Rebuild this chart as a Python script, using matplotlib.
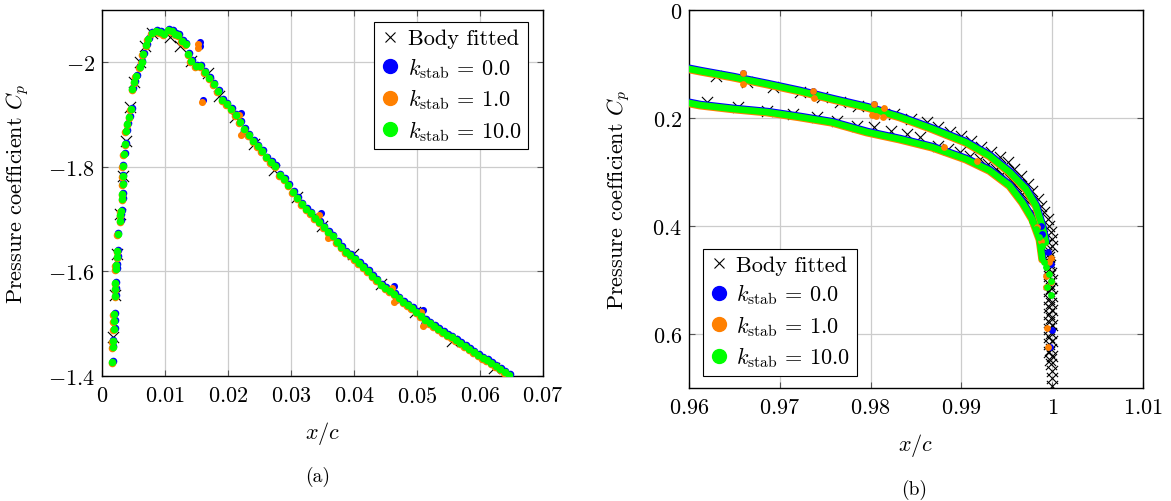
import matplotlib

matplotlib.use("Agg")
import matplotlib.pyplot as plt
from matplotlib import transforms
from matplotlib.lines import Line2D
from matplotlib.ticker import FuncFormatter

# ---------------- (a) leading edge ----------------
# body fitted reference (crosses)
bf_a_x = [0.00175, 0.00206, 0.00238, 0.00286, 0.00333, 0.00381, 0.00444, 0.00508,
          0.00603, 0.00683, 0.00794, 0.01079, 0.01238, 0.01413, 0.01683, 0.01857,
          0.02111, 0.02413, 0.02730, 0.03095, 0.03492, 0.03984, 0.04429, 0.04968,
          0.05556, 0.06222]
bf_a_y = [-1.475, -1.555, -1.633, -1.710, -1.782, -1.849, -1.914, -1.962,
          -2.000, -2.031, -2.056, -2.048, -2.031, -2.002, -1.979, -1.935,
          -1.895, -1.844, -1.794, -1.742, -1.687, -1.633, -1.576, -1.522,
          -1.467, -1.415]

# immersed results, common part of the three k_stab runs
ib_a_x = [0.0016, 0.0017, 0.0017, 0.0019, 0.0019, 0.0019, 0.0021, 0.0021, 0.0021,
          0.0022, 0.0022, 0.0024, 0.0024, 0.0025, 0.0029, 0.0029, 0.0030, 0.0032,
          0.0032, 0.0033, 0.0033, 0.0033, 0.0035, 0.0037, 0.0038, 0.0040, 0.0043,
          0.0046, 0.0048, 0.0051, 0.0054, 0.0060, 0.0063, 0.0065, 0.0070, 0.0073,
          0.0079, 0.0086, 0.0092, 0.0098, 0.0105, 0.0111, 0.0116, 0.0121, 0.0127,
          0.0133, 0.0137, 0.0141, 0.0149,
          0.0156, 0.0163, 0.0170, 0.0177, 0.0184, 0.0191, 0.0198, 0.0205, 0.0212,
          0.0219, 0.0226, 0.0233, 0.0240, 0.0247, 0.0254, 0.0261, 0.0268, 0.0275,
          0.0282, 0.0289, 0.0296, 0.0303, 0.0310, 0.0317, 0.0324, 0.0331, 0.0338,
          0.0345, 0.0352, 0.0359, 0.0366, 0.0373, 0.0380, 0.0387, 0.0394, 0.0401,
          0.0408, 0.0415, 0.0422, 0.0429, 0.0436, 0.0443, 0.0450, 0.0457, 0.0464,
          0.0471, 0.0478, 0.0485, 0.0492, 0.0499, 0.0506, 0.0513, 0.0520, 0.0527,
          0.0534, 0.0541, 0.0548, 0.0555, 0.0562, 0.0569, 0.0576, 0.0583, 0.0590,
          0.0597, 0.0604, 0.0611, 0.0618, 0.0625, 0.0632, 0.0639, 0.0646]
ib_a_y = [-1.427, -1.455, -1.467, -1.490, -1.505, -1.519, -1.553, -1.566, -1.578,
          -1.605, -1.612, -1.628, -1.639, -1.672, -1.696, -1.708, -1.716, -1.738,
          -1.748, -1.767, -1.782, -1.802, -1.824, -1.844, -1.868, -1.882, -1.895,
          -1.911, -1.949, -1.962, -1.974, -1.991, -2.000, -2.016, -2.033, -2.044,
          -2.056, -2.060, -2.058, -2.054, -2.062, -2.060, -2.054, -2.052, -2.041,
          -2.035, -2.016, -2.002, -1.993,
          -1.993, -1.981, -1.970, -1.958, -1.946, -1.928, -1.920, -1.911, -1.899,
          -1.885, -1.872, -1.861, -1.849, -1.840, -1.831, -1.818, -1.810, -1.802,
          -1.785, -1.776, -1.766, -1.752, -1.740, -1.729, -1.720, -1.712, -1.703,
          -1.694, -1.685, -1.676, -1.667, -1.657, -1.647, -1.638, -1.631, -1.624,
          -1.617, -1.609, -1.600, -1.592, -1.584, -1.575, -1.568, -1.562, -1.557,
          -1.549, -1.541, -1.536, -1.530, -1.522, -1.514, -1.508, -1.502, -1.496,
          -1.490, -1.484, -1.479, -1.474, -1.469, -1.464, -1.458, -1.452, -1.446,
          -1.440, -1.435, -1.430, -1.425, -1.420, -1.414, -1.408, -1.402]

# scattered points seen only for k_stab = 0 and 1
odd_a_x = [0.0154, 0.0154, 0.0159, 0.0219, 0.0222, 0.0346, 0.0359, 0.0462,
           0.0465, 0.0508, 0.0510]
odd_a_y = [-2.037, -2.029, -1.926, -1.901, -1.863, -1.710, -1.666, -1.570,
           -1.543, -1.524, -1.497]

# ---------------- (b) trailing edge ----------------
bf_b_x = [0.9630, 0.9664, 0.9692, 0.9722, 0.9746, 0.9766, 0.9786, 0.9808, 0.9826,
          0.9845, 0.9862, 0.9874, 0.9887, 0.9900, 0.9911, 0.9922, 0.9933, 0.9942,
          0.9951, 0.9958, 0.9966, 0.9973, 0.9978, 0.9984, 0.9988, 0.9991, 0.9995,
          0.9997, 0.9999, 1.0000, 1.0000,
          0.9620, 0.9654, 0.9686, 0.9714, 0.9741, 0.9763, 0.9785, 0.9804, 0.9823,
          0.9840, 0.9854, 0.9874, 0.9885, 0.9898, 0.9909, 0.9920, 0.9929, 0.9938,
          0.9945, 0.9953, 0.9960, 0.9967, 0.9973, 0.9978, 0.9982, 0.9986, 0.9989,
          0.9993,
          0.9995, 0.9996, 0.9997, 0.9996, 0.9998, 0.9996, 0.9999, 0.9997, 1.0000,
          0.9997, 0.9999, 0.9996, 1.0000, 0.9997, 0.9999, 0.9996, 1.0000, 0.9997,
          0.9999, 0.9996, 1.0000, 0.9997, 0.9999, 0.9996, 1.0000, 0.9997, 0.9999,
          0.9997, 1.0000, 0.9998, 0.9999, 1.0000, 1.0000, 1.0000]
bf_b_y = [0.122, 0.133, 0.143, 0.152, 0.161, 0.170, 0.178, 0.187, 0.193,
          0.202, 0.207, 0.217, 0.226, 0.233, 0.243, 0.254, 0.263, 0.272,
          0.281, 0.294, 0.307, 0.322, 0.335, 0.350, 0.363, 0.374, 0.387,
          0.400, 0.411, 0.424, 0.437,
          0.170, 0.180, 0.187, 0.193, 0.198, 0.206, 0.215, 0.217, 0.224,
          0.230, 0.235, 0.252, 0.257, 0.263, 0.270, 0.276, 0.285, 0.294,
          0.304, 0.313, 0.326, 0.341, 0.356, 0.372, 0.387, 0.402, 0.419,
          0.433,
          0.445, 0.452, 0.458, 0.466, 0.472, 0.479, 0.487, 0.493, 0.500,
          0.508, 0.514, 0.521, 0.529, 0.535, 0.542, 0.550, 0.556, 0.563,
          0.571, 0.577, 0.584, 0.591, 0.598, 0.606, 0.612, 0.619, 0.627,
          0.633, 0.640, 0.648, 0.655, 0.669, 0.681, 0.697]

# suction side band and pressure side band
up_b_x = [0.9600, 0.9612, 0.9648, 0.9686, 0.9722, 0.9758, 0.9796, 0.9832, 0.9868,
          0.9905, 0.9931, 0.9953, 0.9971, 0.9982, 0.9989, 0.9993]
up_b_y = [0.109, 0.113, 0.124, 0.137, 0.150, 0.165, 0.180, 0.198, 0.220,
          0.245, 0.270, 0.300, 0.331, 0.362, 0.400, 0.430]
lo_b_x = [0.9600, 0.9612, 0.9648, 0.9686, 0.9722, 0.9758, 0.9796, 0.9832, 0.9868,
          0.9905, 0.9931, 0.9953, 0.9967, 0.9978, 0.9986, 0.9989]
lo_b_y = [0.172, 0.176, 0.183, 0.189, 0.198, 0.208, 0.226, 0.239, 0.254,
          0.276, 0.297, 0.325, 0.356, 0.387, 0.424, 0.461]

# loose points near the trailing edge, per run
k0_b_x = [0.9659, 0.9737, 0.9804, 0.99879, 0.99890, 0.99956, 0.99989, 1.0000, 0.99978]
k0_b_y = [0.117, 0.150, 0.174, 0.400, 0.415, 0.448, 0.470, 0.593, 0.624]
k1_b_x = [0.9659, 0.9660, 0.9737, 0.9738, 0.9804, 0.9801, 0.9815, 0.9806, 0.9814,
          0.9881, 0.9917, 0.99835, 0.99879, 0.99989, 0.99967, 0.99934, 0.99989,
          0.99934, 0.99945, 0.99956]
k1_b_y = [0.117, 0.137, 0.150, 0.163, 0.174, 0.194, 0.181, 0.196, 0.198,
          0.254, 0.280, 0.402, 0.428, 0.459, 0.467, 0.493, 0.504,
          0.513, 0.589, 0.624]
k10_b_x = [0.99780, 0.99824, 0.99857, 0.99890, 0.99912, 0.99934, 0.99967, 0.99989,
           0.99945, 0.99989]
k10_b_y = [0.391, 0.405, 0.420, 0.437, 0.467, 0.476, 0.489, 0.502, 0.513, 0.528]

labels = [r"$k_{\mathrm{stab}}\,=\,0.0$", r"$k_{\mathrm{stab}}\,=\,1.0$",
          r"$k_{\mathrm{stab}}\,=\,10.0$"]
colors = ["#0000ff", "#ff8000", "#00ff00"]

plt.rcParams["font.family"] = "cmr10"
plt.rcParams["mathtext.fontset"] = "cm"
plt.rcParams["axes.formatter.use_mathtext"] = True
plt.rcParams["font.size"] = 16

fig = plt.figure(figsize=(11.71, 5.02), dpi=100)
ax1 = fig.add_axes([0.0871, 0.249, 0.3766, 0.729])
ax2 = fig.add_axes([0.5884, 0.225, 0.3877, 0.753])

fmt = FuncFormatter(lambda v, p: "$%s$" % ("%g" % round(v, 4)))


def style(ax):
    ax.grid(True, color="#cccccc", lw=0.9)
    ax.set_axisbelow(True)
    ax.tick_params(direction="in", top=True, right=True, length=4, width=0.8,
                   color="#555555", labelsize=16)
    ax.tick_params(axis="x", pad=7)
    ax.tick_params(axis="y", pad=5)
    for s in ax.spines.values():
        s.set_linewidth(1.0)
    ax.xaxis.set_major_formatter(fmt)
    ax.yaxis.set_major_formatter(fmt)


# shifts so that blue peeks out above and orange below the green marks
def shifted(ax, dx, dy):
    return transforms.offset_copy(ax.transData, fig=fig, x=dx, y=dy, units="points")


shifts = [(0.5, 0.7), (-0.4, -0.7), (0, 0)]

# (a)
ax1.scatter(bf_a_x, bf_a_y, marker="x", s=65, c="k", lw=0.8, zorder=2)
for i, col in enumerate(colors):
    tr = shifted(ax1, *shifts[i])
    ax1.scatter(ib_a_x, ib_a_y, s=30, c=col, lw=0, transform=tr, zorder=3)
    if i < 2:
        ax1.scatter(odd_a_x, odd_a_y, s=26, c=col, lw=0, transform=tr, zorder=3)
ax1.set_xlim(0, 0.07)
ax1.set_ylim(-1.4, -2.1)
ax1.set_xticks([0, 0.01, 0.02, 0.03, 0.04, 0.05, 0.06, 0.07])
ax1.set_yticks([-2.0, -1.8, -1.6, -1.4])
style(ax1)
ax1.set_xlabel("$x/c$")
ax1.set_ylabel("Pressure coefficient $C_p$")
ax1.xaxis.set_label_coords(0.5, -0.117)
ax1.yaxis.set_label_coords(-0.161, 0.5)

# (b)
ax2.scatter(bf_b_x, bf_b_y, marker="x", s=65, c="k", lw=0.8, zorder=2)
extra = [(k0_b_x, k0_b_y), (k1_b_x, k1_b_y), (k10_b_x, k10_b_y)]
for i, col in enumerate(colors):
    tr = shifted(ax2, *shifts[i])
    ax2.plot(up_b_x, up_b_y, color=col, lw=4.8, solid_capstyle="round",
             transform=tr, zorder=3)
    ax2.plot(lo_b_x, lo_b_y, color=col, lw=4.8, solid_capstyle="round",
             transform=tr, zorder=3)
    ax2.scatter(extra[i][0], extra[i][1], s=24, c=col, lw=0, zorder=4)
ax2.set_xlim(0.96, 1.01)
ax2.set_ylim(0.7, 0.0)
ax2.set_xticks([0.96, 0.97, 0.98, 0.99, 1.0, 1.01])
ax2.set_yticks([0.0, 0.2, 0.4, 0.6])
style(ax2)
ax2.set_xlabel("$x/c$")
ax2.set_ylabel("Pressure coefficient $C_p$")
ax2.xaxis.set_label_coords(0.5, -0.114)
ax2.yaxis.set_label_coords(-0.125, 0.5)

handles = [Line2D([], [], ls="", marker="x", ms=7, mew=0.8, color="k")]
handles += [Line2D([], [], ls="", marker="o", ms=10, color=c) for c in colors]
names = ["Body fitted"] + labels
for ax, loc, anchor in [(ax1, "upper right", (0.966, 0.967)),
                        (ax2, "lower left", (0.031, 0.032))]:
    leg = ax.legend(handles, names, loc=loc, bbox_to_anchor=anchor,
                    borderaxespad=0, fancybox=False, framealpha=1,
                    edgecolor="k", handlelength=0.8, handletextpad=0.4,
                    borderpad=0.3, labelspacing=0.3, fontsize=16)
    leg.get_frame().set_linewidth(0.8)

fig.text(318 / 1171, 1 - 477 / 502, "(a)", ha="center", va="center", fontsize=14)
fig.text(914 / 1171, 1 - 490 / 502, "(b)", ha="center", va="center", fontsize=14)

fig.savefig("out.png", dpi=100)
